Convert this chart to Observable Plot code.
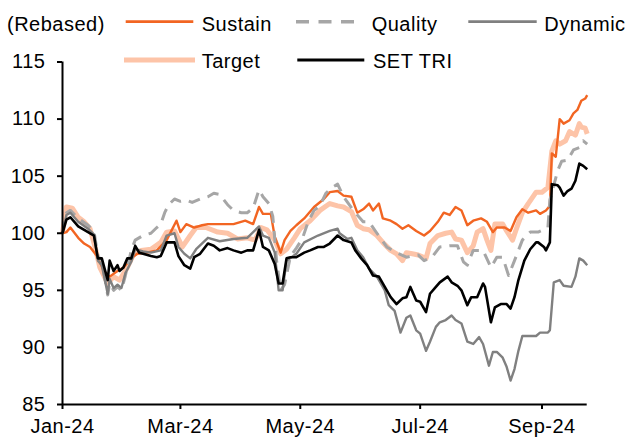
<!DOCTYPE html>
<html><head><meta charset="utf-8">
<script src="https://cdn.jsdelivr.net/npm/d3@7"></script>
<script src="https://cdn.jsdelivr.net/npm/@observablehq/plot@0.6"></script>
<style>
body{margin:0;background:#fff;}
#wrap{position:relative;width:628px;height:438px;font-family:"Liberation Sans",Arial,sans-serif;}
#wrap svg{position:absolute;left:0;top:0;}
#wrap text{letter-spacing:0.5px;}
</style></head><body><div id="wrap"></div>
<script>
// ---- data (rebased index, 2024) ----
const seriesNames = ["Sustain", "Quality", "Dynamic", "Target", "SET TRI"];
const yTicks = [85, 90, 95, 100, 105, 110, 115];
const xTicks = ["01-01", "03-01", "05-01", "07-01", "09-01"];
const xDomain = ["01-01", "09-24"];
const yDomain = [85, 115];

const sustain = [["01-01",100],["01-03",100.1],["01-05",100.5],["01-09",99.6],["01-12",99.1],["01-15",98.8],["01-19",97.9],["01-22",96.7],["01-25",96.2],["01-29",96.7],["02-01",97.0],["02-05",97.8],["02-08",98.2],["02-13",98.3],["02-18",98.5],["02-23",99.4],["02-28",101.1],["03-01",100.1],["03-04",100.8],["03-08",100.5],["03-12",100.7],["03-15",100.8],["03-21",100.8],["03-28",100.8],["04-03",101.1],["04-07",100.8],["04-10",102.3],["04-12",101.7],["04-16",101.7],["04-18",99.7],["04-21",98.3],["04-23",99.4],["04-26",100.2],["04-29",100.7],["05-03",101.3],["05-08",102.3],["05-13",103.0],["05-16",103.6],["05-20",103.7],["05-23",103.3],["05-27",103.2],["05-30",101.8],["06-02",102.1],["06-05",102.6],["06-07",102.0],["06-10",102.6],["06-12",101.3],["06-16",101.1],["06-19",100.8],["06-22",100.4],["06-25",100.7],["06-29",100.2],["07-03",99.8],["07-06",100.2],["07-10",101.0],["07-13",101.8],["07-16",101.6],["07-19",102.3],["07-22",102.0],["07-25",100.7],["07-28",101.1],["08-01",101.3],["08-04",101.0],["08-07",100.1],["08-09",100.5],["08-13",100.5],["08-16",100.2],["08-19",101.4],["08-22",102.1],["08-25",101.8],["08-29",102.0],["08-31",101.7],["09-03",102.0],["09-05",102.4],["09-06",107.0],["09-08",106.7],["09-10",110.0],["09-12",109.6],["09-15",109.9],["09-17",110.5],["09-19",110.8],["09-21",111.6],["09-23",111.8],["09-24",112.1]];

const quality = [["01-01",100],["01-03",101.8],["01-05",102.0],["01-09",101.3],["01-14",100.7],["01-17",100.2],["01-19",98.0],["01-21",97.6],["01-24",94.6],["01-25",95.6],["01-27",95.0],["01-29",95.3],["01-31",95.0],["02-02",96.3],["02-05",98.5],["02-07",99.4],["02-11",99.8],["02-15",100.0],["02-18",100.5],["02-20",100.8],["02-22",101.8],["02-24",102.5],["02-27",103.0],["03-01",102.8],["03-04",102.9],["03-07",102.7],["03-11",103.0],["03-15",103.2],["03-18",103.5],["03-21",103.4],["03-25",102.5],["03-28",102.0],["04-01",101.8],["04-04",101.8],["04-07",102.2],["04-10",103.8],["04-12",103.2],["04-15",102.6],["04-17",101.5],["04-19",97.5],["04-21",95.0],["04-23",95.5],["04-26",98.0],["04-29",98.7],["05-02",99.5],["05-05",101.0],["05-08",102.0],["05-11",102.4],["05-14",103.5],["05-17",104.0],["05-20",104.3],["05-23",103.2],["05-28",102.0],["06-02",101.0],["06-05",101.0],["06-09",100.0],["06-14",98.8],["06-19",98.3],["06-24",97.9],["06-30",98.1],["07-03",97.6],["07-07",97.9],["07-11",98.8],["07-16",98.9],["07-20",98.9],["07-23",97.5],["07-25",97.2],["07-28",98.5],["08-02",98.5],["08-06",97.0],["08-09",97.9],["08-12",97.9],["08-15",96.3],["08-18",97.6],["08-22",99.4],["08-26",100.1],["08-30",100.1],["09-04",100.5],["09-05",102.9],["09-09",105.5],["09-11",106.3],["09-14",106.4],["09-17",107.3],["09-20",107.5],["09-22",108.1],["09-24",107.8]];

const dynamic = [["01-01",100],["01-03",101.6],["01-05",101.8],["01-09",101.0],["01-14",100.4],["01-17",99.9],["01-19",97.6],["01-21",97.2],["01-24",94.7],["01-25",96.0],["01-27",95.2],["01-29",95.5],["01-31",95.2],["02-02",96.5],["02-05",97.5],["02-07",98.6],["02-11",98.4],["02-15",98.3],["02-20",98.5],["02-23",99.8],["02-27",100.0],["02-29",98.8],["03-03",98.2],["03-06",97.8],["03-09",98.6],["03-15",99.6],["03-21",99.3],["03-28",99.5],["04-04",99.6],["04-10",100.6],["04-12",99.8],["04-15",99.6],["04-18",98.3],["04-20",95.0],["04-22",95.0],["04-24",97.6],["04-29",98.2],["05-03",99.2],["05-10",99.8],["05-16",100.2],["05-20",100.4],["05-21",100.0],["05-25",99.5],["05-27",99.6],["05-30",98.5],["06-02",97.9],["06-05",96.9],["06-09",96.2],["06-13",95.0],["06-15",93.7],["06-18",93.2],["06-21",91.3],["06-24",92.6],["06-26",92.8],["06-29",91.5],["07-01",91.2],["07-04",89.7],["07-06",90.5],["07-09",91.8],["07-11",92.2],["07-14",92.4],["07-17",92.8],["07-19",92.4],["07-22",92.1],["07-25",90.5],["07-28",90.3],["07-31",90.9],["08-02",90.3],["08-05",88.4],["08-07",89.6],["08-09",89.6],["08-12",89.1],["08-14",88.3],["08-16",87.1],["08-18",88.1],["08-20",89.7],["08-22",91.0],["08-25",91.0],["08-29",91.0],["08-31",91.3],["09-04",91.3],["09-05",91.5],["09-07",95.7],["09-10",95.9],["09-12",95.4],["09-16",95.3],["09-18",96.2],["09-20",97.8],["09-22",97.6],["09-24",97.2]];

const target = [["01-01",100],["01-03",102.3],["01-06",102.2],["01-09",101.4],["01-12",101.0],["01-15",100.4],["01-18",98.5],["01-20",97.0],["01-24",95.6],["01-27",96.2],["01-30",95.9],["02-03",97.0],["02-06",98.1],["02-10",98.5],["02-15",98.6],["02-20",99.2],["02-23",100.1],["02-27",100.2],["03-02",98.8],["03-06",99.8],["03-09",100.5],["03-14",100.5],["03-20",100.1],["03-25",100.0],["03-30",99.5],["04-04",99.6],["04-08",99.4],["04-11",100.5],["04-14",100.3],["04-18",99.4],["04-21",98.2],["04-24",98.6],["04-28",99.6],["05-01",100.4],["05-06",101.1],["05-11",102.0],["05-16",102.6],["05-20",102.4],["05-23",102.3],["05-27",101.9],["05-30",100.7],["06-02",100.4],["06-05",100.3],["06-09",99.8],["06-12",99.2],["06-16",98.5],["06-19",98.2],["06-22",97.6],["06-24",98.3],["06-27",98.2],["06-30",98.1],["07-04",97.8],["07-06",99.1],["07-10",99.8],["07-14",100.0],["07-17",100.1],["07-19",99.5],["07-22",99.4],["07-25",98.3],["07-28",98.9],["07-30",100.1],["08-02",100.4],["08-04",99.4],["08-06",98.5],["08-08",100.8],["08-12",100.8],["08-14",100.2],["08-17",99.4],["08-19",100.4],["08-22",101.8],["08-25",102.6],["08-29",103.6],["09-01",103.6],["09-04",104.0],["09-06",107.2],["09-08",108.1],["09-10",107.8],["09-13",108.1],["09-15",108.9],["09-18",108.6],["09-20",109.6],["09-21",109.3],["09-23",109.2],["09-24",108.7]];

const setTri = [["01-01",100],["01-03",101.2],["01-05",101.4],["01-09",100.6],["01-14",100.1],["01-17",99.8],["01-19",97.8],["01-21",97.8],["01-24",95.9],["01-25",97.6],["01-27",96.7],["01-29",97.2],["01-30",96.7],["02-01",97.0],["02-03",97.8],["02-05",97.8],["02-07",98.9],["02-09",98.3],["02-11",98.2],["02-15",98.0],["02-18",97.9],["02-20",98.0],["02-23",99.2],["02-27",99.2],["02-29",98.0],["03-03",97.2],["03-06",96.9],["03-08",97.9],["03-11",98.2],["03-15",99.1],["03-18",98.9],["03-21",98.5],["03-25",98.7],["03-28",98.5],["04-01",98.3],["04-04",98.5],["04-07",98.5],["04-10",100.3],["04-12",98.8],["04-15",98.5],["04-18",97.3],["04-20",95.6],["04-22",95.6],["04-24",97.8],["04-26",97.9],["04-29",97.9],["05-03",98.3],["05-06",98.5],["05-10",98.8],["05-13",98.8],["05-16",99.1],["05-20",99.8],["05-23",99.4],["05-27",99.2],["05-29",98.5],["06-01",97.8],["06-04",97.2],["06-07",96.3],["06-10",96.2],["06-13",95.3],["06-16",94.4],["06-19",93.8],["06-22",94.3],["06-24",94.4],["06-26",95.3],["06-29",94.1],["07-01",94.0],["07-04",93.1],["07-06",94.7],["07-09",95.3],["07-11",95.7],["07-15",96.2],["07-17",95.7],["07-20",95.4],["07-22",95.0],["07-25",93.7],["07-27",94.4],["07-30",94.4],["08-02",95.6],["08-03",95.3],["08-06",92.2],["08-08",93.5],["08-11",93.8],["08-14",93.8],["08-16",93.4],["08-18",94.4],["08-20",95.9],["08-23",97.6],["08-26",98.6],["08-29",99.2],["08-30",99.2],["09-02",98.8],["09-03",98.5],["09-05",99.2],["09-06",104.3],["09-09",104.2],["09-10",104.0],["09-12",103.3],["09-14",103.7],["09-16",103.9],["09-18",104.6],["09-20",106.1],["09-22",105.9],["09-24",105.6]];

// ---- build ----
const parse = s => new Date("2024-" + s + "T00:00:00Z");
const seriesData = {Sustain: sustain, Quality: quality, Dynamic: dynamic, Target: target, "SET TRI": setTri};
const styles = {
  Sustain:  {stroke: "#F26522", strokeWidth: 2.4},
  Quality:  {stroke: "#A6A6A6", strokeWidth: 3, strokeDasharray: "12,8"},
  Dynamic:  {stroke: "#808080", strokeWidth: 2.4},
  Target:   {stroke: "#FDC4A8", strokeWidth: 5},
  "SET TRI":{stroke: "#000000", strokeWidth: 2.6}
};
const rows = name => seriesData[name].map(([d, v]) => ({date: parse(d), value: v}));
const drawOrder = ["Target", "Sustain", "Quality", "Dynamic", "SET TRI"];

const chart = Plot.plot({
  width: 628, height: 438,
  marginLeft: 62, marginRight: 41.3, marginTop: 61.5, marginBottom: 34,
  style: {fontFamily: '"Liberation Sans", Arial, sans-serif', fontSize: "20px", color: "#000", background: "transparent"},
  x: {type: "utc", domain: xDomain.map(parse)},
  y: {domain: yDomain},
  marks: [
    ...drawOrder.map(n => Plot.line(rows(n), {x: "date", y: "value", ...styles[n], strokeLinejoin: "round", strokeLinecap: "butt"})),
    Plot.ruleX([parse(xDomain[0])], {stroke: "#000", strokeWidth: 2}),
    Plot.ruleY([yDomain[0]], {stroke: "#000", strokeWidth: 2}),
    Plot.axisY({ticks: yTicks, tickSize: 5, tickPadding: 12, strokeWidth: 2, label: null, fontSize: 20}),
    Plot.axisX({ticks: xTicks.map(parse), tickFormat: d3.utcFormat("%b-%y"), tickSize: 5, tickPadding: 9, strokeWidth: 2, label: null, fontSize: 20})
  ]
});
const wrap = document.getElementById("wrap");
wrap.appendChild(chart);

// ---- legend overlay ----
const legendRows = [
  {name: "Sustain", row: 0, sx: 125.7, ex: 193.3, tx: 201.7},
  {name: "Quality", row: 0, sx: 296, ex: 354, tx: 371.7},
  {name: "Dynamic", row: 0, sx: 468.3, ex: 536.7, tx: 544.3},
  {name: "Target", row: 1, sx: 124, ex: 195, tx: 201.7},
  {name: "SET TRI", row: 1, sx: 297.3, ex: 364.3, tx: 373}
];
const lineY = [21.7, 60], baseY = [30.5, 68];
const leg = d3.create("svg").attr("width", 628).attr("height", 80)
  .style("font-family", '"Liberation Sans", Arial, sans-serif').style("font-size", "20px");
leg.append("text").attr("x", 7).attr("y", baseY[0]).text("(Rebased)");
legendRows.forEach(it => {
  const s = styles[it.name];
  leg.append("line").attr("x1", it.sx).attr("x2", it.ex).attr("y1", lineY[it.row]).attr("y2", lineY[it.row])
    .attr("stroke", s.stroke).attr("stroke-width", it.name === "Target" ? 5 : (it.name === "Quality" ? 3.4 : 2.8))
    .attr("stroke-dasharray", it.name === "Quality" ? "13,9.5" : null);
  leg.append("text").attr("x", it.tx).attr("y", baseY[it.row]).text(it.name);
});
wrap.appendChild(leg.node());
</script></body></html>
